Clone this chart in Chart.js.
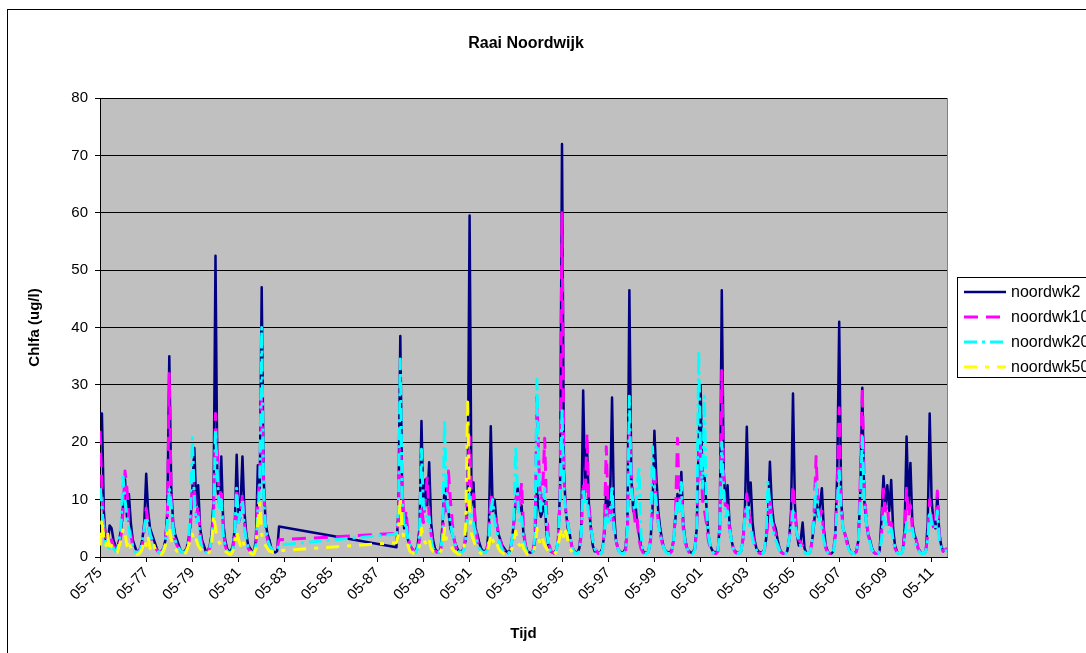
<!DOCTYPE html>
<html>
<head>
<meta charset="utf-8">
<title>Raai Noordwijk</title>
<script src="https://cdn.jsdelivr.net/npm/chart.js@4.4.1/dist/chart.umd.min.js"></script>
<style>
  html, body { margin: 0; padding: 0; background: #fff; overflow: hidden; }
  #frame { position: absolute; left: 7px; top: 9px; width: 1200px; height: 680px; border: 1px solid #000; }
  #chart { display: block; }
</style>
</head>
<body>
<div id="frame"><canvas id="chart" width="1200" height="680"></canvas></div>
<script>
const FONT = "'Liberation Sans', Arial, sans-serif";

// one row per year, Jan..Dec, null = no sample (no cruises 1984-1987)
const years = [1975, 1976, 1977, 1978, 1979, 1980, 1981, 1982, 1983,
  1988, 1989, 1990, 1991, 1992, 1993, 1994, 1995, 1996, 1997, 1998, 1999,
  2000, 2001, 2002, 2003, 2004, 2005, 2006, 2007, 2008, 2009, 2010, 2011, 2012];

const seriesNames = ['noordwk2', 'noordwk10', 'noordwk20', 'noordwk50'];

const tickLabels = ['05-75', '05-77', '05-79', '05-81', '05-83', '05-85', '05-87', '05-89', '05-91',
  '05-93', '05-95', '05-97', '05-99', '05-01', '05-03', '05-05', '05-07', '05-09', '05-11'];

const n = null;

const nw2 = [
  [n, n, n, n, 25, 25, 8, 3, 2.5, 5.5, 5, 3],
  [2, 1.5, 3, 5, 9, 13.5, 7, 11, 6, 3, 2, 1],
  [1, 1.5, 3, 6, 14.5, 8, 5, 4, 3, 2, 1, 0.8],
  [1, 1.5, 3, 8, 35, 12, 6, 4, 3, 2, 1, 0.8],
  [1, 1.5, 3, 6, 12, 19, 9, 12.5, 5, 3, 2, 1],
  [1, 2, 4, 10, 52.5, 12, 9, 17.5, 6, 3, 1.5, 1],
  [1, 2, 5, 17.8, 7, 9, 17.5, 8, 4, 2, 1.5, 1],
  [1, 3, 16, 12, 47, 14, 6, 4, 3, 1.5, 1, 0.8],
  [1, 5.3, n, n, n, n, n, n, n, n, n, n],
  [n, n, 1.7, 8, 38.5, 10, 5, 7, 3, 2, 1.5, 1],
  [1, 2, 5, 23.7, 8, 13.5, 9, 16.5, 6, 3, 1.5, 1],
  [0.8, 1.5, 6, 12, 9, 8, 5, 4, 3, 2, 1.2, 0.8],
  [1, 1.5, 3, 10, 59.5, 9, 13, 5, 4, 2.5, 1.5, 1],
  [1, 1.5, 5, 22.8, 8, 10, 6, 4, 3, 2, 1.5, 1],
  [0.8, 1.2, 3, 6, 10, 12, 8, 9, 4, 2, 1, 0.8],
  [0.8, 1, 3, 12, 9, 7, 8, 10, 4, 2, 1, 0.8],
  [0.8, 1.2, 3, 12, 72, 15, 8, 5, 4, 2, 1.2, 0.8],
  [0.8, 1.5, 5, 29, 12, 19.2, 9, 5, 2, 1, 1, 0.6],
  [0.8, 1.5, 4, 12, 8, 10, 27.8, 8, 3, 1.5, 1, 0.8],
  [0.8, 1.5, 6, 46.5, 14, 8, 9.9, 6, 4, 2, 1, 0.8],
  [0.7, 1, 3, 8, 22, 14, 8, 5, 3, 1.5, 1, 0.8],
  [0.8, 1.2, 3, 7, 11, 8, 14.8, 6, 3, 1.5, 1, 0.8],
  [0.8, 1.5, 5, 20, 30, 12, 14, 9, 4, 2, 1.2, 0.8],
  [0.8, 1.2, 6, 46.5, 15, 9, 12.5, 6, 3, 1.5, 1, 0.7],
  [0.7, 1, 3, 8, 22.7, 9, 13, 6, 3, 1.5, 1, 0.8],
  [0.8, 1.2, 3, 7, 16.6, 9, 6, 5, 3, 1.5, 0.8, 0.6],
  [0.6, 1, 3, 8, 28.5, 9, 4, 2, 3, 6, 1.5, 0.6],
  [0.6, 1, 3, 6, 10, 7, 9, 12, 5, 2, 1, 0.6],
  [0.6, 1, 4, 15, 41, 10, 5, 4, 3, 1.5, 0.8, 0.6],
  [0.7, 1, 3, 12, 29.5, 10, 6, 4, 3, 1.5, 0.8, 0.6],
  [0.6, 1, 7, 14.1, 9, 12.5, 8, 13.4, 5, 2, 1, 0.6],
  [0.6, 1, 5, 21, 9, 16.4, 6, 4, 3, 1.5, 1, 0.6],
  [0.6, 1, 6, 25, 10, 6, 5, 11, 4, 2, 1, 1.2],
  [1.5, n, n, n, n, n, n, n, n, n, n, n]
];

const nw10 = [
  [n, n, n, n, 22, 12, 6, 3, 4, 2, 3, 2],
  [1.5, 1, 2, 4, 8, 15, 12, 6, 4, 2, 1.5, 1],
  [1, 1.5, 2, 5, 8.5, 6, 4, 3, 2, 1.5, 1, 0.8],
  [1, 1.5, 3, 7, 32, 10, 5, 3, 2, 1.5, 1, 0.8],
  [1, 1.2, 2, 5, 14, 12, 7, 9, 4, 2, 1, 0.8],
  [1, 1.5, 3, 8, 25, 18, 10, 12, 5, 2, 1, 0.8],
  [0.8, 1.5, 4, 12, 6, 7, 11, 6, 3, 1.5, 1, 0.8],
  [0.8, 2, 10, 14, 28, 12, 5, 3, 2, 1.5, 1, 1],
  [1.5, 3, n, n, n, n, n, n, n, n, n, n],
  [n, n, 4.1, 6, 23, 12, 6, 8, 4, 2, 1.5, 1],
  [1, 1.5, 3, 9, 6, 10, 14, 7, 4, 2, 1.2, 0.8],
  [0.8, 1.2, 4, 10, 8, 15, 10, 6, 3, 1.5, 1, 0.8],
  [0.8, 1.5, 4, 12, 21, 10, 11, 6, 3, 1.5, 1, 0.8],
  [0.8, 1.2, 4, 11, 9, 8, 6, 4, 3, 1.5, 1, 0.8],
  [0.6, 1, 3, 6, 10, 12, 9, 13, 5, 2, 1, 0.8],
  [0.8, 1.2, 4, 28, 16, 9, 12, 20.7, 8, 3, 1.2, 0.8],
  [0.6, 1, 3, 10, 60, 14, 8, 6, 4, 2, 1, 0.7],
  [0.7, 1.2, 4, 13, 10, 21.6, 9, 5, 3, 1.5, 1, 0.6],
  [0.6, 1, 5, 19.2, 8, 6, 9, 5, 3, 1.5, 0.8, 0.6],
  [0.6, 1, 5, 22, 15, 9, 6, 7, 3, 1.5, 0.8, 0.6],
  [0.6, 1, 3, 9, 16, 10, 6, 4, 2.5, 1.5, 0.8, 0.6],
  [0.6, 1, 3, 8, 20.7, 9, 11, 5, 2.5, 1.5, 0.8, 0.6],
  [0.6, 1.2, 5, 18, 20, 10, 8, 6, 3, 1.5, 0.8, 0.6],
  [0.6, 1, 5, 32.5, 13, 8, 9, 5, 3, 1.5, 0.8, 0.6],
  [0.6, 1, 3, 7, 11, 8, 6, 4, 2.5, 1.2, 0.8, 0.6],
  [0.6, 1, 3, 6, 10.5, 7, 5, 4, 2.5, 1.2, 0.8, 0.6],
  [0.6, 1, 3, 6, 12.5, 8, 4, 3, 2.5, 2, 1, 0.6],
  [0.6, 1, 3, 8, 17.5, 9, 7, 8, 4, 1.5, 0.8, 0.6],
  [0.6, 1, 4, 12, 26, 9, 5, 4, 2.5, 1.2, 0.8, 0.6],
  [0.6, 1, 3, 14, 29.5, 12, 7, 4, 2.5, 1.2, 0.8, 0.6],
  [0.6, 1, 4, 11.8, 8, 9, 5, 6, 3, 1.5, 0.8, 0.6],
  [0.6, 1, 4, 12, 7, 9, 5, 4, 3, 1.5, 0.8, 0.6],
  [0.6, 1, 4, 10, 7, 5, 6, 11.5, 4, 2, 1, 1.2],
  [1.5, n, n, n, n, n, n, n, n, n, n, n]
];

const nw20 = [
  [n, n, n, n, 12, 9, 4, 2, 3, 1.5, 2, 1.5],
  [1, 1.2, 3, 6, 14, 10, 7, 5, 3, 2, 1, 0.8],
  [0.8, 1.2, 3, 5, 7, 6, 4, 3, 2, 1.5, 1, 0.8],
  [0.8, 1.2, 3, 6, 12, 9, 5, 3, 2, 1.5, 1, 0.8],
  [0.8, 1.2, 3, 8, 20.8, 10, 6, 7, 3, 1.5, 1, 0.8],
  [0.8, 1.5, 3, 7, 22, 14, 8, 10, 4, 2, 1, 0.8],
  [0.8, 1.2, 4, 12, 6, 8, 10, 5, 3, 1.5, 1, 0.8],
  [0.8, 2, 8, 12, 40, 11, 5, 3, 2, 1.5, 1, 1],
  [1.2, 2.1, n, n, n, n, n, n, n, n, n, n],
  [n, n, 4, 8, 34.5, 10, 5, 6, 3, 2, 1.2, 0.8],
  [0.8, 1.5, 4, 18.8, 9, 8, 6, 7, 3, 1.5, 1, 0.8],
  [0.8, 1.2, 4, 24, 10, 8, 6, 4, 3, 1.5, 1, 0.8],
  [0.8, 1.2, 3, 8, 12, 7, 6, 4, 2.5, 1.5, 1, 0.8],
  [0.8, 1, 3, 8, 10, 6, 5, 3, 2, 1.2, 0.8, 0.6],
  [0.6, 1, 3, 7, 19.4, 10, 6, 7, 3, 1.5, 0.8, 0.6],
  [0.6, 1, 4, 31, 14, 8, 9, 12, 5, 2, 1, 0.6],
  [0.6, 1, 3, 9, 26, 11, 8, 6, 4, 2, 1, 0.6],
  [0.6, 1, 4, 12, 9, 10, 7, 5, 3, 1.5, 0.8, 0.6],
  [0.6, 1, 4, 8, 6, 7, 12.5, 5, 3, 1.5, 0.8, 0.6],
  [0.6, 1, 5, 28, 12, 9, 8, 12, 15.8, 4, 1.2, 0.6],
  [0.6, 1, 3, 19.2, 12, 9, 6, 4, 2.5, 1.5, 0.8, 0.6],
  [0.6, 1, 3, 7, 10, 8, 13, 5, 2.5, 1.5, 0.8, 0.6],
  [0.6, 1.2, 5, 36, 18, 12, 28, 9, 4, 2, 1, 0.6],
  [0.6, 1, 5, 20, 11, 7, 8, 5, 3, 1.5, 0.8, 0.6],
  [0.6, 1, 3, 7, 9, 6, 5, 3, 2, 1.2, 0.8, 0.6],
  [0.6, 1, 4, 13, 9, 6, 4, 3, 2, 1.2, 0.8, 0.6],
  [0.6, 1, 3, 5, 8, 6, 4, 3, 2, 1.5, 0.8, 0.6],
  [0.6, 1, 3, 7, 13, 8, 6, 5, 3, 1.2, 0.8, 0.6],
  [0.6, 1, 3, 9, 15, 8, 5, 4, 2.5, 1.2, 0.8, 0.6],
  [0.6, 1, 3, 10, 21, 10, 6, 4, 2.5, 1.2, 0.8, 0.6],
  [0.6, 1, 3, 7, 6, 5, 4, 5, 3, 1.5, 0.8, 0.6],
  [0.6, 1, 3, 6, 5, 4, 5, 3, 2, 1.2, 0.8, 0.6],
  [0.6, 1, 3, 8, 6, 5, 5, 8, 3, 1.5, 1, 1],
  [1.2, n, n, n, n, n, n, n, n, n, n, n]
];

// noordwk50 stops after 1995
const nw50 = [
  [n, n, n, n, 2, 6.7, 3, 2, 4, 1, 2, 1],
  [1, 0.8, 2, 3, 5, 4, 2, 3, 1.5, 1, 0.8, 0.5],
  [0.5, 0.8, 1.5, 3, 2, 3.5, 1.5, 1, 2, 1, 0.5, 0.5],
  [0.5, 1, 2, 4.5, 5.3, 3, 2, 1.5, 1, 1, 0.5, 0.5],
  [0.5, 1, 2, 3, 4, 2.5, 3, 2, 1.5, 1, 0.8, 0.5],
  [0.5, 1, 2, 7.3, 5, 3, 2.5, 2, 1.5, 1, 0.8, 0.5],
  [0.5, 1, 2, 4.5, 3, 2, 3, 2, 1.5, 1, 0.8, 0.5],
  [0.5, 1.5, 5.9, 9.4, 4, 2.5, 2, 1.5, 1, 1, 0.8, 0.8],
  [1, 1.1, n, n, n, n, n, n, n, n, n, n],
  [n, n, 2.5, 4, 10.5, 5, 3, 2.5, 2, 1, 0.8, 0.6],
  [0.5, 1, 2, 5, 3, 2.5, 2, 3, 1.5, 1, 0.6, 0.5],
  [0.5, 1, 2, 5, 3, 2.5, 2, 1.5, 1, 0.8, 0.5, 0.5],
  [0.5, 1, 6, 27, 8, 4, 3, 2, 1.5, 1, 0.6, 0.5],
  [0.5, 1, 2, 4, 3, 2, 2.5, 1.5, 1, 0.8, 0.5, 0.5],
  [0.5, 0.8, 1.5, 3, 4.5, 2.5, 2, 3, 1.5, 1, 0.5, 0.5],
  [0.5, 0.8, 2, 5, 3, 2, 3, 2, 1.5, 1, 0.5, 0.5],
  [0.5, 0.8, 2, 4, 5, 3, 4.5, 3, 1.5, 1, 0.8, 0.6]
];

// x = months since May 1975
function toPoints(rows) {
  const pts = [];
  rows.forEach((row, r) => {
    row.forEach((v, m) => {
      if (v !== null) pts.push({ x: (years[r] - 1975) * 12 + m - 4, y: v });
    });
  });
  return pts;
}

const decor = {
  id: 'decor',
  beforeDraw(chart) {
    const { ctx, chartArea: a } = chart;
    ctx.save();
    ctx.fillStyle = '#C0C0C0';
    ctx.fillRect(a.left, a.top, a.right - a.left, a.bottom - a.top);
    ctx.restore();
  },
  afterDraw(chart) {
    const { ctx, chartArea: a } = chart;
    ctx.save();
    // plot border on the right
    ctx.strokeStyle = '#808080';
    ctx.lineWidth = 1;
    ctx.beginPath();
    ctx.moveTo(a.right + 0.5, a.top);
    ctx.lineTo(a.right + 0.5, a.bottom);
    ctx.stroke();

    // title
    ctx.fillStyle = '#000';
    ctx.font = 'bold 16px ' + FONT;
    ctx.textAlign = 'center';
    ctx.textBaseline = 'middle';
    ctx.fillText('Raai Noordwijk', 518, 34);

    // legend
    const bx = 949.5, by = 267.5;
    ctx.strokeStyle = '#000';
    ctx.strokeRect(bx, by, 220, 100);
    ctx.font = '16px ' + FONT;
    ctx.textAlign = 'left';
    chart.data.datasets.forEach((ds, i) => {
      const y = 282 + i * 25;
      ctx.strokeStyle = ds.borderColor;
      ctx.lineWidth = ds.borderWidth;
      ctx.setLineDash(ds.borderDash || []);
      ctx.beginPath();
      ctx.moveTo(956, y);
      ctx.lineTo(998, y);
      ctx.stroke();
      ctx.setLineDash([]);
      ctx.fillStyle = '#000';
      ctx.fillText(ds.label, 1003, y + 1);
    });
    ctx.restore();
  }
};

const rows = [nw2, nw10, nw20, nw50];
const colors = ['#000080', '#FF00FF', '#00FFFF', '#FFFF00'];
const dashes = [[], [14, 8], [13, 5, 3, 5], [13, 8, 4, 8]];

new Chart(document.getElementById('chart').getContext('2d'), {
  type: 'line',
  data: {
    datasets: seriesNames.map((name, i) => ({
      label: name,
      data: toPoints(rows[i]),
      borderColor: colors[i],
      borderWidth: i === 0 ? 2.5 : 3,
      borderDash: dashes[i],
      borderJoinStyle: 'round',
      pointRadius: 0,
      tension: 0,
      order: 3 - i
    }))
  },
  options: {
    responsive: false,
    animation: false,
    layout: { padding: { top: 88, right: 261, left: 0, bottom: 0 } },
    plugins: { legend: { display: false }, tooltip: { enabled: false }, title: { display: false } },
    scales: {
      x: {
        type: 'linear',
        min: 0,
        max: 440,
        afterFit: s => { s.height = 133; },
        afterBuildTicks: s => { s.ticks = tickLabels.map((_, i) => ({ value: i * 24 })); },
        grid: { drawOnChartArea: false, drawTicks: true, tickLength: 5, color: '#000' },
        border: { color: '#000', width: 1 },
        ticks: {
          autoSkip: false,
          minRotation: 45,
          maxRotation: 45,
          padding: 2,
          color: '#000',
          font: { family: FONT, size: 15 },
          callback: v => tickLabels[Math.round(v / 24)]
        },
        title: {
          display: true,
          text: 'Tijd',
          color: '#000',
          font: { family: FONT, size: 15, weight: 'bold' },
          padding: { top: 0, bottom: 47 }
        }
      },
      y: {
        min: 0,
        max: 80,
        afterFit: s => { s.width = 92; },
        grid: { color: '#000', lineWidth: 1, tickLength: 5 },
        border: { color: '#000', width: 1 },
        ticks: {
          stepSize: 10,
          padding: 7,
          color: '#000',
          font: { family: FONT, size: 15 }
        },
        title: {
          display: true,
          text: 'Chlfa (ug/l)',
          color: '#000',
          font: { family: FONT, size: 15, weight: 'bold' },
          padding: { top: 18, bottom: 0 }
        }
      }
    }
  },
  plugins: [decor]
});
</script>
</body>
</html>
